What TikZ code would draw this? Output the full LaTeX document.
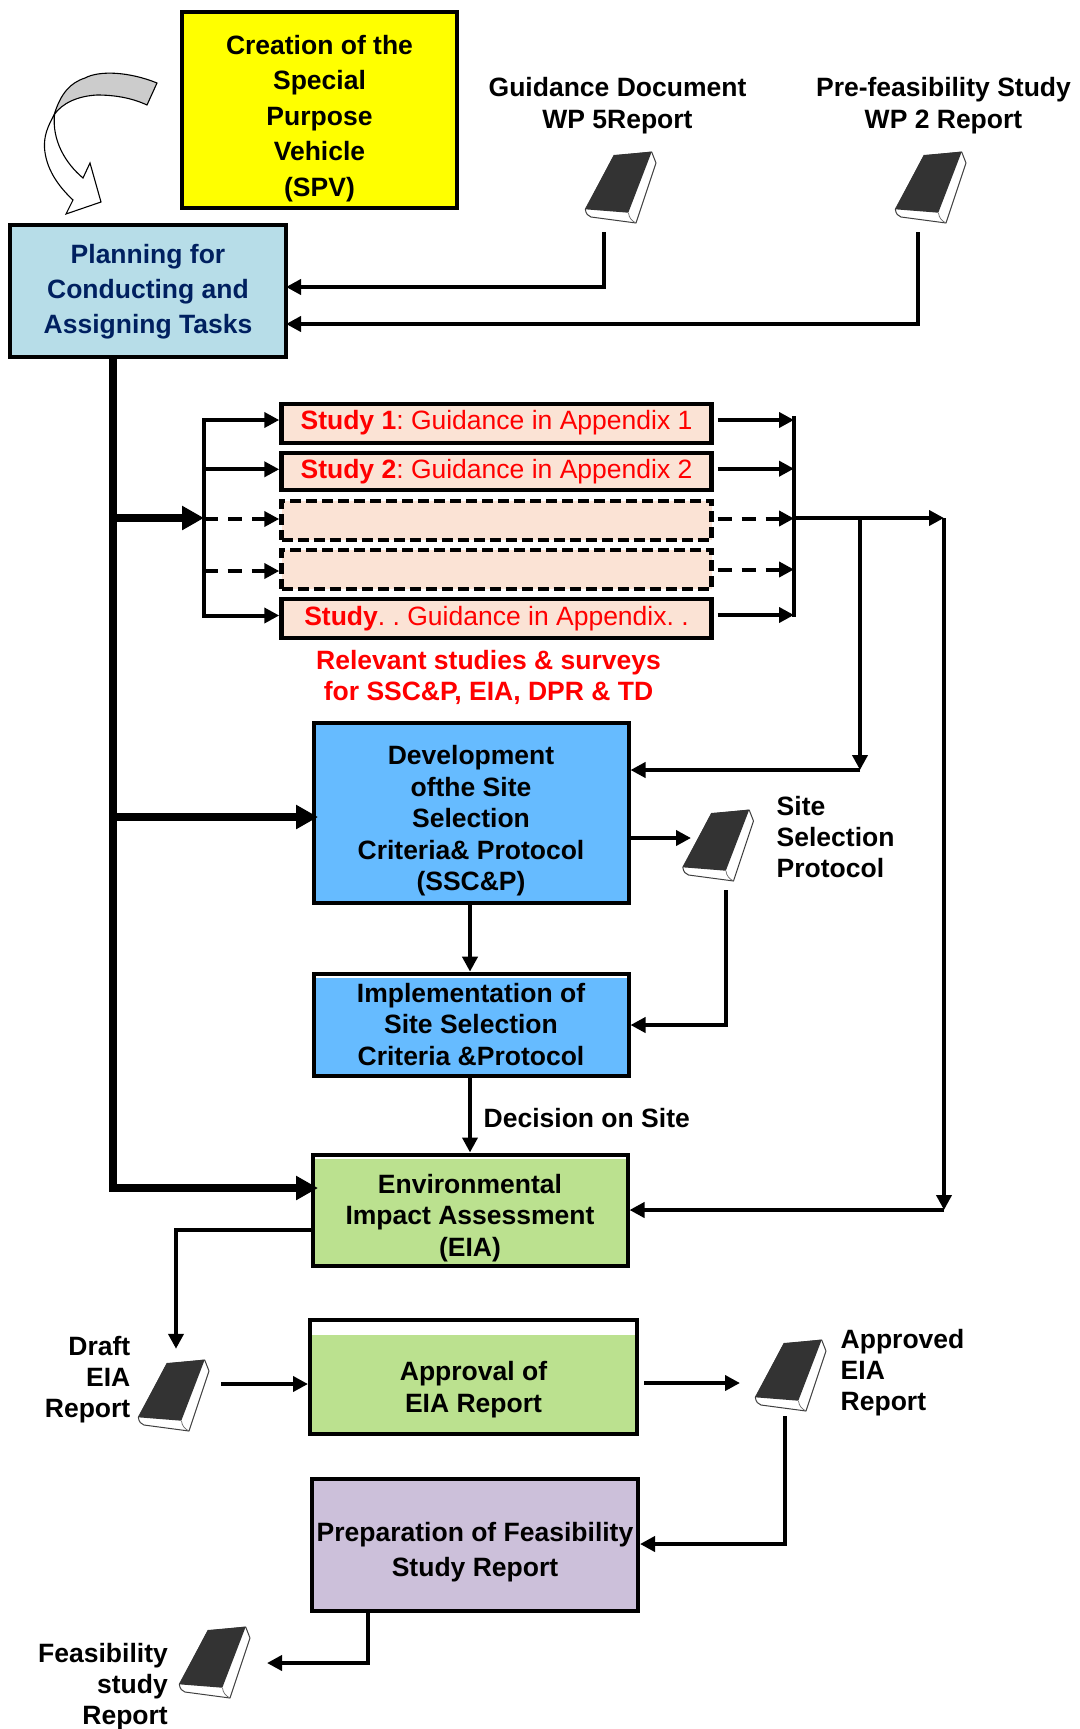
\documentclass[tikz,border=0pt]{standalone}
\usepackage{fontspec}
\setmainfont{Liberation Sans}
\usetikzlibrary{arrows.meta,calc}
\definecolor{spvfill}{HTML}{FFFF00}
\definecolor{planfill}{HTML}{B7DDE8}
\definecolor{plantext}{HTML}{002060}
\definecolor{studyfill}{HTML}{FBE3D5}
\definecolor{bluefill}{HTML}{66BBFF}
\definecolor{greenfill}{HTML}{BBE18F}
\definecolor{purplefill}{HTML}{CCC0DA}
\definecolor{bookdark}{HTML}{333333}
\newcommand\dropped[2]{\setbox0=\hbox{\begin{tabular}{@{}c@{}}#2\end{tabular}}\raisebox{#1pt}[\ht0][\dp0]{\copy0}}
\tikzset{
  x=1pt,y=-1pt,
  box/.style={draw=black,line width=4pt,rectangle,inner sep=0pt,align=center,font=\fontsize{26.5}{31.5}\selectfont\bfseries},
  studybox/.style={box,line width=4.5pt,fill=studyfill,minimum width=430pt,text=red,font=\fontsize{26.5}{32}\selectfont\frenchspacing},
  dashbox/.style={studybox,dash pattern=on 11pt off 5pt},
  strip/.style={path picture={\fill[white] (path picture bounding box.north west) rectangle ([yshift=-#1]path picture bounding box.north east);}},
  lbl/.style={inner sep=0pt,font=\fontsize{26.5}{31}\selectfont\bfseries,align=center},
  arr/.style={draw=black,line width=4pt,-{Triangle[length=15pt,width=15pt]}},
  plainline/.style={draw=black,line width=4pt},
  thickarr/.style={draw=black,line width=8pt,-{Triangle[length=22pt,width=23pt]}},
  dasharr/.style={arr,dash pattern=on 14pt off 10pt},
  bookbox/.style={inner sep=0pt,minimum width=96pt,minimum height=90pt},
  book/.pic={
    \path[fill=white,draw=black!75,line width=1pt,line join=round]
      (-35.7,22.3) .. controls (-35,27) and (-33,29) .. (-30,30) -- (15,36) -- (35,-24) -- (30.7,-35) -- (-7,-31) -- cycle;
    \draw[black!60,line width=.7pt] (7.5,26) .. controls (8,31) and (11,34) .. (15,36);
    \fill[bookdark] (-7.3,-32) -- (30.7,-35.3) -- (7.3,25.7) -- (-35.7,22.3) -- cycle;
  }
}
\begin{document}
\begin{tikzpicture}
\useasboundingbox (0,0) rectangle (1079,1729);
\fill[white] (0,0) rectangle (1079,1729);

% curved arrow
\path[fill=white,draw=black,line width=1.1pt,line join=miter]
  (54,115) .. controls (47,128) and (44,136) .. (44.5,148)
  .. controls (46,168) and (57,185) .. (73,200) -- (66,214) -- (101,202) -- (90,163) -- (83,178)
  .. controls (65,163) and (52,140) .. (54.5,115) -- cycle;
\path[fill=black!20,draw=black,line width=1.1pt,line join=miter]
  (157,83) .. controls (130,72) and (100,70) .. (85,78)
  .. controls (70,83) and (61,93) .. (54,115)
  .. controls (62,103) and (78,96) .. (97,95)
  .. controls (115,95) and (132,98) .. (147,105) -- cycle;

% main boxes
\node[box,fill=spvfill,minimum width=275pt,minimum height=196pt] (spv) at (319.5,110)
  {\dropped{-9}{Creation of the\\[4pt]Special\\[4pt]Purpose\\[4pt]Vehicle\\[4pt](SPV)}};
\node[box,fill=planfill,text=plantext,minimum width=276pt,minimum height=132pt] (plan) at (148,291)
  {\dropped{-1}{Planning for\\[3.5pt]Conducting and\\[3.5pt]Assigning Tasks}};

\node[studybox,minimum height=39pt] (s1) at (496.5,423.5) {\dropped{0.3}{\textbf{Study 1}: Guidance in Appendix 1}};
\node[studybox,minimum height=37pt] (s2) at (496.5,471.5) {\dropped{-1}{\textbf{Study 2}: Guidance in Appendix 2}};
\node[dashbox,minimum height=39pt] (d1) at (496.5,520.5) {};
\node[dashbox,minimum height=39pt] (d2) at (496.5,569.5) {};
\node[studybox,minimum height=39pt] (sn) at (496.5,618.5) {\textbf{Study}. . Guidance in Appendix. .};
\node[lbl,text=red] (rel) at (488.5,677) {Relevant studies \& surveys\\for SSC\&P, EIA, DPR \& TD};

\node[box,fill=bluefill,minimum width=315pt,minimum height=180pt] (ssc) at (471,813)
  {\dropped{-8.5}{Development\\ofthe Site\\Selection\\Criteria\& Protocol\\(SSC\&P)}};
\node[box,fill=bluefill,strip=4pt,minimum width=315pt,minimum height=102pt] (impl) at (471,1024.7)
  {\dropped{-2.5}{Implementation of\\Site Selection\\Criteria \&Protocol}};
\node[box,fill=greenfill,strip=4pt,minimum width=315pt,minimum height=111pt] (eia) at (470,1210)
  {\dropped{-8.5}{Environmental\\Impact Assessment\\(EIA)}};
\node[box,fill=greenfill,strip=15pt,minimum width=327pt,minimum height=114pt] (appr) at (473.5,1376.5)
  {\dropped{-13.5}{Approval of\\EIA Report}};
\node[box,fill=purplefill,minimum width=326pt,minimum height=132pt] (prep) at (475,1545)
  {\dropped{-8}{Preparation of Feasibility\\[3.5pt]Study Report}};

% books
\node[bookbox] (bk1) at (621,187) {}; \pic at (bk1) {book};
\node[bookbox] (bk2) at (931,187) {}; \pic at (bk2) {book};
\node[bookbox] (bk3) at (718.5,845) {}; \pic at (bk3) {book};
\node[bookbox] (bk4) at (174,1395) {}; \pic at (bk4) {book};
\node[bookbox] (bk5) at (791,1375) {}; \pic at (bk5) {book};
\node[bookbox] (bk6) at (215,1662) {}; \pic at (bk6) {book};

% labels
\node[lbl,font=\fontsize{26.5}{32}\selectfont\bfseries] (lb1) at (617.5,105.5) {Guidance Document\\WP 5Report};
\node[lbl,font=\fontsize{26.5}{32}\selectfont\bfseries] (lb2) at (943.5,106) {Pre-feasibility Study\\WP 2 Report};
\node[lbl,anchor=west,align=left] (lb3) at (776.5,837) {Site\\Selection\\Protocol};
\node[lbl,anchor=west] (lb4) at (483.5,1118) {Decision on Site};
\node[lbl,anchor=east,align=right] (lb5) at (130.5,1379.5) {Draft\\EIA\\Report};
\node[lbl,anchor=west,align=left] (lb6) at (840.5,1372.5) {Approved\\EIA\\Report};
\node[lbl,anchor=east,align=right] (lb7) at (168,1687) {Feasibility\\study\\Report};

% book to planning
\draw[arr] ([xshift=-17pt]bk1.south) |- ([xshift=-2pt,yshift=4pt]plan.east);
\draw[arr] ([xshift=-13pt]bk2.south) |- ([xshift=-2pt,yshift=-33pt]plan.east);

% thick trunk
\coordinate (trunkJ) at (113,1188);
\coordinate (trunkT) at (113,518);
\coordinate (trunkS) at (113,817);
\coordinate (tipT) at (204,518);
\draw[draw=black,line width=8pt,line cap=rect] (plan.south -| trunkJ) -- (trunkJ);
\draw[thickarr] (trunkT) -- (tipT);
\draw[thickarr] (trunkS) -- (318,817);
\draw[thickarr] (trunkJ) -- (318,1188);

% left bus
\coordinate (lt) at (203.7,420);
\coordinate (lb) at (203.7,615.5);
\draw[plainline,line cap=rect] (lt) -- (lb);
\draw[arr] (lt) -- (lt -| s1.west);
\draw[arr] (203.7,469.3) -- (s2.west |- 0,469.3);
\draw[dasharr] (tipT) ++(0,1) -- (d1.west |- 0,519);
\draw[dasharr] (203.7,571) -- (d2.west |- 0,571);
\draw[arr] (lb) -- (lb -| sn.west);

% right bus
\coordinate (rt) at (794,416);
\coordinate (rb) at (794,617);
\coordinate (rj) at (794,518);
\draw[plainline] (rt) -- (rb);
\draw[arr] (717.5,420) -- (794,420);
\draw[arr] (717.5,468.7) -- (794,468.7);
\draw[dasharr] (717.5,518.5) -- (794,518.5);
\draw[dasharr] (717.5,569.5) -- (794,569.5);
\draw[arr] (717.5,615) -- (794,615);

% outputs of the bus
\coordinate (jA) at (860,518);
\coordinate (jB) at (944,518);
\coordinate (jC) at (860,770);
\coordinate (jD) at (944,1210);
\draw[arr] (rj) -- (jB);
\draw[arr] (jA) -- (jC);
\draw[arr] (jB) -- (jD);
\draw[arr] (jC) -- (jC -| ssc.east);
\draw[arr] (jD) -- (jD -| eia.east);

% process connectors
\coordinate (sscOut) at (ssc.east |- 0,838);
\draw[arr] (sscOut) -- (691,838);
\draw[arr] (726,890) |- (impl.east |- 0,1025);
\draw[arr] (ssc.south -| 470,0) -- (impl.north -| 470,0);
\draw[arr] (impl.south -| 470,0) -- (eia.north -| 470,0);
\draw[arr] (eia.west |- 0,1230) -| ([xshift=2pt,yshift=1pt]bk4.north);
\draw[arr] (221,1384) -- (appr.west |- 0,1384);
\draw[arr] ([xshift=5pt]appr.east |- 0,1383) -- (740,1383);
\draw[arr] (784.5,1416) |- (prep.east |- 0,1544);
\draw[arr] (prep.south -| 368,0) |- (267,1663);
\end{tikzpicture}
\end{document}
